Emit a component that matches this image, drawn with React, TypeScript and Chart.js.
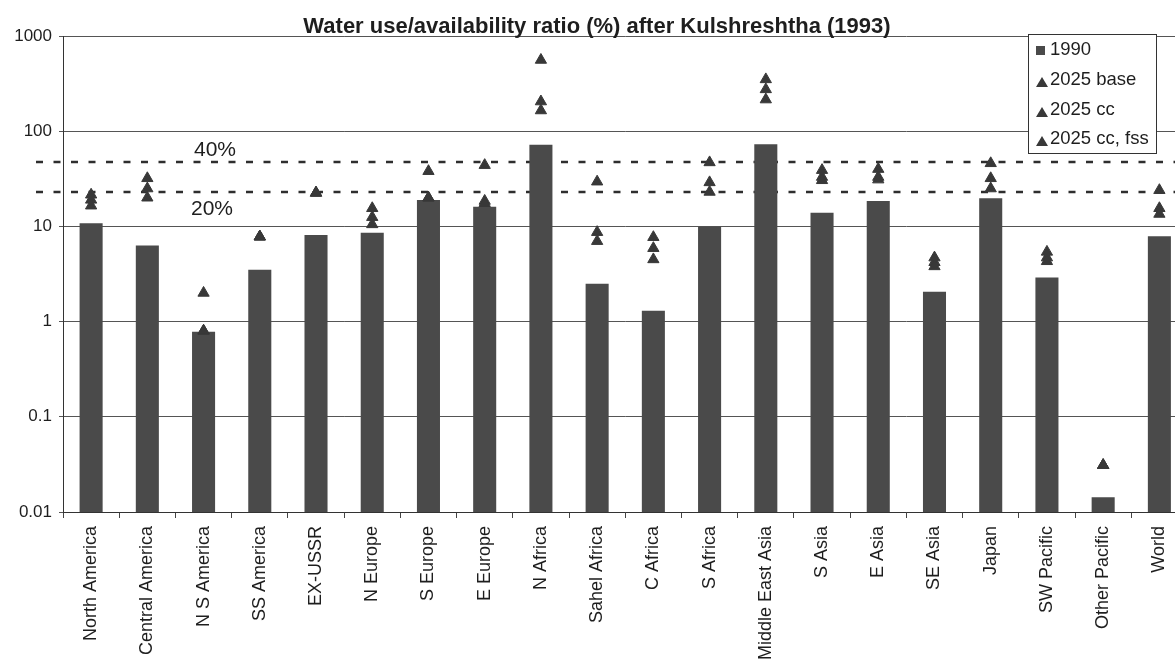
import React, { useEffect, useRef } from 'react';
import { Chart, registerables } from 'chart.js';

Chart.register(...registerables);

const categories = [
  'North America', 'Central America', 'N S America', 'SS America', 'EX-USSR',
  'N Europe', 'S Europe', 'E Europe', 'N Africa', 'Sahel Africa',
  'C Africa', 'S Africa', 'Middle East Asia', 'S Asia', 'E Asia',
  'SE Asia', 'Japan', 'SW Pacific', 'Other Pacific', 'World',
];
const values1990 = [10.8, 6.3, 0.78, 3.5, 8.1, 8.6, 18.9, 16.1, 72, 2.5, 1.3, 9.9, 73, 13.9, 18.5, 2.06, 19.7, 2.9, 0.0143, 7.9];
const values2025Base = [16.5, 20, 0.8, 7.8, 22.5, 10.5, 20, 17.5, 165, 7, 4.5, 23, 215, 30.5, 31, 3.8, 25, 4.3, 0.031, 13.5];
const values2025Cc = [21.5, 32, 2.0, 7.8, 22.5, 15.5, 38, 44, 560, 29.5, 7.7, 47, 350, 39, 40, 4.7, 46, 5.4, 0.031, 24];
const values2025CcFss = [19, 25, 0.8, 7.8, 22.5, 12.5, 20, 18.5, 205, 8.7, 5.9, 29, 275, 33, 33, 4.2, 32, 4.7, 0.031, 15.5];
const seriesLabels = ['1990', '2025 base', '2025 cc', '2025 cc, fss'];
const yTickValues = [0.01, 0.1, 1, 10, 100, 1000];
const thresholdValues = [48, 23];
const thresholdLabels = ['40%', '20%'];
const titleText = 'Water use/availability ratio (%) after Kulshreshtha (1993)';

const FONT = '"Liberation Sans", Arial, Helvetica, sans-serif';
const BAR = '#4a4a4a';
const MARK = '#383838';
const INK = '#1e1e1e';

function triangle(ctx: CanvasRenderingContext2D, cx: number, cy: number, w: number, h: number) {
  ctx.beginPath();
  ctx.moveTo(cx, cy - h / 2);
  ctx.lineTo(cx + w / 2, cy + h / 2);
  ctx.lineTo(cx - w / 2, cy + h / 2);
  ctx.closePath();
  ctx.fill();
}

export default function App() {
  const ref = useRef<HTMLCanvasElement>(null);

  useEffect(() => {
    if (!ref.current) return;

    const overlay = {
      id: 'overlay',
      beforeDatasetsDraw(chart: any) {
        const { ctx, scales } = chart;
        const y = scales.y;
        ctx.save();
        ctx.strokeStyle = '#2e2e2e';
        ctx.lineWidth = 2.5;
        ctx.setLineDash([7, 10.5]);
        thresholdValues.forEach((v) => {
          const py = Math.round(y.getPixelForValue(v));
          ctx.beginPath();
          ctx.moveTo(36, py);
          ctx.lineTo(chart.width, py);
          ctx.stroke();
        });
        ctx.setLineDash([]);
        ctx.fillStyle = INK;
        ctx.font = `21px ${FONT}`;
        ctx.textAlign = 'center';
        ctx.textBaseline = 'middle';
        ctx.fillText(thresholdLabels[0], 215, y.getPixelForValue(thresholdValues[0]) - 11);
        ctx.fillText(thresholdLabels[1], 212, y.getPixelForValue(thresholdValues[1]) + 17);
        ctx.restore();
      },
      afterDraw(chart: any) {
        const { ctx } = chart;
        ctx.save();
        // title
        ctx.fillStyle = INK;
        ctx.font = `bold 22px ${FONT}`;
        ctx.textAlign = 'center';
        ctx.textBaseline = 'middle';
        ctx.fillText(titleText, 597, 27);
        // legend
        const bx = 1028, by = 34, bw = 128, bh = 119;
        ctx.fillStyle = '#ffffff';
        ctx.fillRect(bx, by, bw, bh);
        ctx.strokeStyle = '#333';
        ctx.lineWidth = 1;
        ctx.strokeRect(bx + 0.5, by + 0.5, bw, bh);
        const rows = [50, 80, 110, 139];
        ctx.font = `18.5px ${FONT}`;
        ctx.textAlign = 'left';
        ctx.textBaseline = 'middle';
        chart.data.datasets.forEach((ds: any, i: number) => {
          const ry = rows[i];
          if (i === 0) {
            ctx.fillStyle = BAR;
            ctx.fillRect(1036, ry - 4, 9, 9);
          } else {
            ctx.fillStyle = MARK;
            triangle(ctx, 1042, ry + 2, 12, 10);
          }
          ctx.fillStyle = INK;
          ctx.fillText(ds.label, 1050, ry);
        });
        ctx.restore();
      },
    };

    const pointDs = (label: string, data: number[]) => ({
      type: 'line' as const,
      label,
      data,
      showLine: false,
      pointStyle: 'triangle',
      pointRadius: 6.5,
      pointHoverRadius: 6.5,
      backgroundColor: MARK,
      borderColor: MARK,
      borderWidth: 1,
      order: 0,
    });

    const chart = new Chart(ref.current, {
      type: 'bar',
      data: {
        labels: categories,
        datasets: [
          {
            type: 'bar',
            label: seriesLabels[0],
            data: values1990,
            backgroundColor: BAR,
            borderWidth: 0,
            barPercentage: 0.41,
            categoryPercentage: 1.0,
            order: 1,
          },
          pointDs(seriesLabels[1], values2025Base),
          pointDs(seriesLabels[2], values2025Cc),
          pointDs(seriesLabels[3], values2025CcFss),
        ] as any,
      },
      options: {
        responsive: false,
        animation: false,
        layout: { padding: { top: 36, left: 0, right: 7, bottom: 0 } },
        plugins: {
          legend: { display: false },
          title: { display: false },
          tooltip: { enabled: false },
        },
        scales: {
          x: {
            type: 'category',
            offset: true,
            afterFit: (s: any) => { s.height = 188; },
            ticks: {
              autoSkip: false,
              minRotation: 90,
              maxRotation: 90,
              font: { family: FONT, size: 18 },
              color: INK,
              padding: 8,
            },
            grid: { drawOnChartArea: false, drawTicks: true, tickLength: 6, color: '#444', offset: true },
            border: { color: '#333', width: 1 },
          },
          y: {
            type: 'logarithmic',
            min: 0.01,
            max: 1000,
            afterBuildTicks: (s: any) => { s.ticks = yTickValues.map((v) => ({ value: v })); },
            afterFit: (s: any) => { s.width = 63; },
            ticks: {
              callback: (v: any) => String(v),
              font: { family: FONT, size: 17 },
              color: INK,
              padding: 7,
            },
            grid: { color: '#555', lineWidth: 1, tickLength: 4, drawTicks: true },
            border: { color: '#333', width: 1 },
          },
        },
      },
      plugins: [overlay],
    } as any);

    return () => chart.destroy();
  }, []);

  return (
    <div style={{ position: 'fixed', left: 0, top: 0, width: 1175, height: 664, overflow: 'hidden', background: '#fff' }}>
      <canvas ref={ref} width={1195} height={700} style={{ display: 'block', width: 1195, height: 700 }} />
    </div>
  );
}
